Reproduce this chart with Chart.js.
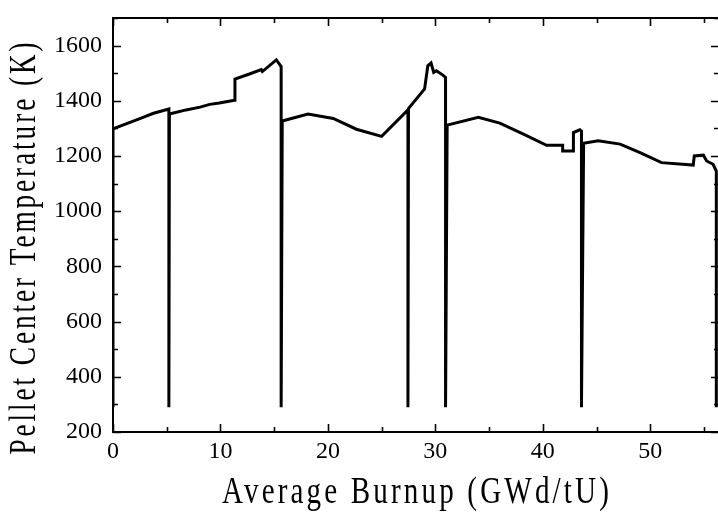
<!DOCTYPE html>
<html>
<head>
<meta charset="utf-8">
<script src="https://cdn.jsdelivr.net/npm/chart.js@4.4.1/dist/chart.umd.min.js"></script>
<style>
    html, body { margin: 0; padding: 0; background: #fff; overflow: hidden; }
    #wrap { width: 718px; height: 514px; overflow: hidden; }
</style>
</head>
<body>
<div id="wrap"><canvas id="tempChart" width="720" height="514"></canvas></div>
<script>
// pellet centre temperature history, one polyline incl. the shutdown drops
const burnup = [
    0, 0, 2.8, 3.7, 5.2, 5.2, 5.25, 6.8, 8.1, 9.0, 9.9, 11.3, 11.35, 12.7, 13.8, 13.9,
    15.2, 15.65, 15.65, 15.75, 18.15, 20.5, 22.65, 25.0, 27.45, 27.45, 27.5, 29.0, 29.3,
    29.6, 29.85, 30.1, 30.7, 30.95, 30.95, 31.1, 34.0, 36.0, 38.2, 40.35, 41.85, 41.85,
    42.85, 42.85, 43.45, 43.6, 43.6, 43.8, 45.15, 47.2, 49.05, 51.05, 54.0, 54.1, 54.95,
    55.25, 55.85, 56.15, 56.15
];
const temperature = [
    290, 1298, 1340, 1354, 1370, 290, 1352, 1367, 1377, 1387, 1392, 1402, 1479, 1497, 1513, 1506,
    1548, 1524, 290, 1327, 1352, 1336, 1297, 1271, 1367, 290, 1372, 1443, 1527,
    1537, 1503, 1509, 1493, 1485, 290, 1312, 1340, 1319, 1279, 1239, 1239, 1218,
    1218, 1285, 1295, 1290, 290, 1246, 1255, 1243, 1212, 1176, 1167, 1200, 1203,
    1182, 1170, 1145, 290
];
const xTickLabels = [0, 10, 20, 30, 40, 50];
const yTickLabels = [200, 400, 600, 800, 1000, 1200, 1400, 1600];

const xTitle = 'Average Burnup (GWd/tU)';
const yTitle = 'Pellet Center Temperature (K)';

const serif = 'Liberation Serif';

// text squeezed/stretched along its own direction to fill a given span
function drawFitted(ctx, text, cx, cy, span, angle, size) {
    ctx.save();
    ctx.font = size + 'px "' + serif + '"';
    ctx.letterSpacing = '4px';
    ctx.fillStyle = '#000';
    ctx.textAlign = 'center';
    ctx.textBaseline = 'middle';
    const w = ctx.measureText(text).width;
    ctx.translate(cx, cy);
    ctx.rotate(angle);
    ctx.scale(span / w, 1);
    ctx.fillText(text, 0, 0);
    ctx.restore();
}

// frame with inward ticks on all four sides, plus axis titles
const framePlugin = {
    id: 'frame',
    afterDraw(chart) {
        const ctx = chart.ctx;
        const a = chart.chartArea;
        const xs = chart.scales.x;
        const ys = chart.scales.y;
        ctx.save();
        ctx.strokeStyle = '#000';
        ctx.lineWidth = 2;
        ctx.strokeRect(a.left, a.top, a.right - a.left, a.bottom - a.top);
        ctx.lineWidth = 1.6;
        ctx.beginPath();
        for (let v = 0; v <= xs.max; v += 5) {
            const px = Math.round(xs.getPixelForValue(v)) + 0.5;
            const len = v % 10 === 0 ? 8 : 5;
            ctx.moveTo(px, a.bottom); ctx.lineTo(px, a.bottom - len);
            ctx.moveTo(px, a.top); ctx.lineTo(px, a.top + len);
        }
        for (let v = 200; v <= ys.max; v += 100) {
            const py = Math.round(ys.getPixelForValue(v)) + 0.5;
            const len = (v - 200) % 200 === 0 ? 8 : 5;
            ctx.moveTo(a.left, py); ctx.lineTo(a.left + len, py);
            ctx.moveTo(a.right, py); ctx.lineTo(a.right - len, py);
        }
        ctx.stroke();
        ctx.restore();

        drawFitted(ctx, xTitle, 417, 493, 390, 0, 37);
        drawFitted(ctx, yTitle, 25, 247, 415, -Math.PI / 2, 37);
    }
};

const points = burnup.map((b, i) => ({ x: b, y: temperature[i] }));

new Chart(document.getElementById('tempChart').getContext('2d'), {
    type: 'line',
    data: {
        datasets: [{
            data: points,
            borderColor: '#000',
            borderWidth: 3,
            pointRadius: 0,
            tension: 0,
            fill: false,
            borderJoinStyle: 'miter'
        }]
    },
    options: {
        responsive: false,
        animation: false,
        devicePixelRatio: 1,
        layout: { padding: { left: 0, top: 18, right: 1, bottom: 0 } },
        plugins: {
            legend: { display: false },
            tooltip: { enabled: false }
        },
        scales: {
            x: {
                type: 'linear',
                min: 0,
                max: 56.4,
                grid: { display: false, drawTicks: false, tickLength: 0 },
                border: { display: false },
                ticks: {
                    stepSize: 10,
                    includeBounds: false,
                    color: '#000',
                    padding: 5,
                    maxRotation: 0,
                    font: { family: serif, size: 24 },
                    callback: v => xTickLabels.includes(v) ? String(v) : ''
                },
                afterFit: s => { s.height = 82; s.paddingLeft = 0; s.paddingRight = 0; }
            },
            y: {
                type: 'linear',
                min: 200,
                max: 1700,
                grid: { display: false, drawTicks: false, tickLength: 0 },
                border: { display: false },
                ticks: {
                    stepSize: 200,
                    includeBounds: false,
                    color: '#000',
                    padding: 11,
                    font: { family: serif, size: 24 },
                    callback: v => yTickLabels.includes(v) ? String(v) : ''
                },
                afterFit: s => { s.width = 113; s.paddingTop = 0; s.paddingBottom = 0; }
            }
        }
    },
    plugins: [framePlugin]
});
</script>
</body>
</html>
